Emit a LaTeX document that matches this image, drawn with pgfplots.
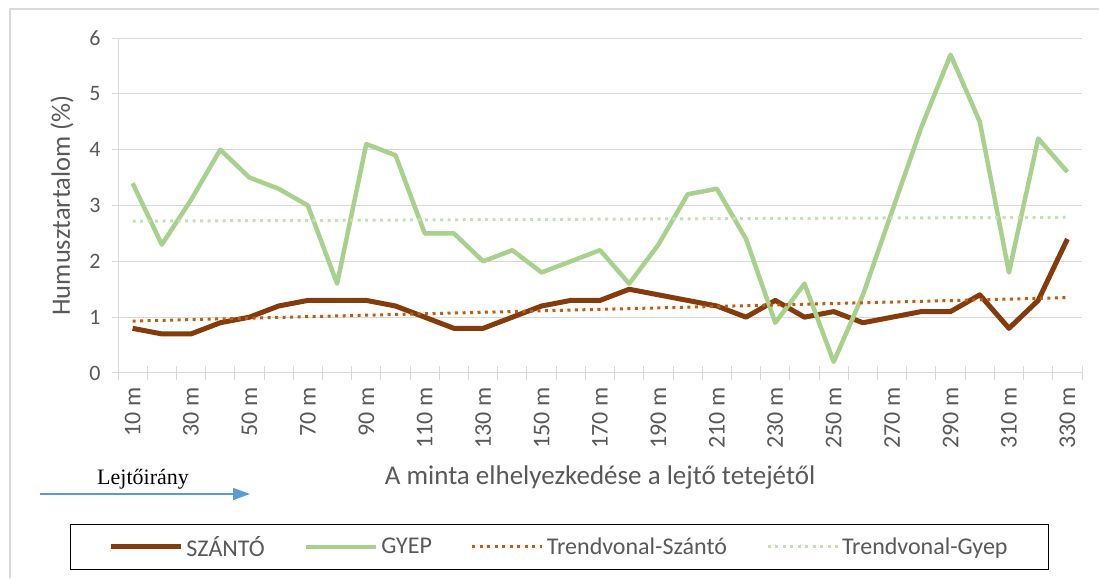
\documentclass[border=0pt]{standalone}
\usepackage{fontspec}
\setmainfont{Carlito}
\newfontfamily\timesfont{Liberation Serif}
\usepackage{pgfplots}
\pgfplotsset{compat=1.18}
\usetikzlibrary{arrows.meta}
\definecolor{szanto}{HTML}{843C0C}
\definecolor{gyep}{HTML}{A9D18E}
\definecolor{trsz}{HTML}{C55A11}
\definecolor{trgy}{HTML}{C5E0B4}
\definecolor{txt}{HTML}{595959}
\definecolor{gridc}{HTML}{D9D9D9}
\definecolor{arrowblue}{HTML}{5B9BD5}
\begin{document}
\begin{tikzpicture}[x=1pt,y=1pt]
\useasboundingbox (0,0) rectangle (1099,578);
\draw[gridc, line width=1.5pt] (10,0) -- (10,569) -- (1099,569);
\begin{axis}[
  at={(118pt,205pt)}, anchor=south west,
  scale only axis, width=964pt, height=335pt,
  xmin=0.5, xmax=33.5, ymin=0, ymax=6,
  axis x line*=bottom, axis y line*=left,
  axis line style={draw=gridc, line width=1pt, -},
  every outer x axis line/.append style={-},
  every outer y axis line/.append style={-},
  ytick={0,1,2,3,4,5,6},
  ymajorgrids, grid style={draw=gridc, line width=1pt},
  xtick={1,3,...,33},
  xticklabels={10 m,30 m,50 m,70 m,90 m,110 m,130 m,150 m,170 m,190 m,210 m,230 m,250 m,270 m,290 m,310 m,330 m},
  minor xtick={0.5,1.5,...,33.5},
  major x tick style={draw=none},
  minor tick length=14pt, major tick length=6pt,
  xtick align=center, ytick align=outside,
  tick style={draw=gridc, line width=1pt},
  xticklabel shift=8pt, yticklabel shift=8pt,
  xticklabel style={rotate=90, anchor=east, font=\fontsize{24}{28}\selectfont, text=txt},
  yticklabel style={font=\fontsize{22}{26}\selectfont, text=txt},
  /pgf/number format/assume math mode=true,
  xlabel={A minta elhelyezkedése a lejtő tetejétől},
  xlabel style={at={(axis description cs:0.5,-0.313)}, anchor=center, font=\fontsize{27}{31}\selectfont, text=txt},
  ylabel={Humusztartalom (\%)},
  ylabel style={at={(axis description cs:-0.058,0.5)}, anchor=center, rotate=0, font=\fontsize{26.5}{30}\selectfont, text=txt},
  legend columns=4,
  legend style={at={(axis description cs:0.458,-0.519)}, anchor=center,
    draw=black, line width=1pt, font=\fontsize{24}{28}\selectfont, text=txt,
    inner xsep=38pt, inner ysep=10pt,
    nodes={inner xsep=3pt},
    /tikz/every even column/.append style={column sep=36pt}},
  legend image code/.code={\draw[#1] (0pt,0pt) -- (70pt,0pt);},
]
\addplot[szanto, line width=5pt, line join=round] coordinates {
(1,0.8) (2,0.7) (3,0.7) (4,0.9) (5,1.0) (6,1.2) (7,1.3) (8,1.3) (9,1.3) (10,1.2)
(11,1.0) (12,0.8) (13,0.8) (14,1.0) (15,1.2) (16,1.3) (17,1.3) (18,1.5) (19,1.4) (20,1.3)
(21,1.2) (22,1.0) (23,1.3) (24,1.0) (25,1.1) (26,0.9) (27,1.0) (28,1.1) (29,1.1) (30,1.4)
(31,0.8) (32,1.3) (33,2.4)};
\addlegendentry{SZÁNTÓ}
\addplot[gyep, line width=4.5pt, line join=round] coordinates {
(1,3.4) (2,2.3) (3,3.1) (4,4.0) (5,3.5) (6,3.3) (7,3.0) (8,1.6) (9,4.1) (10,3.9)
(11,2.5) (12,2.5) (13,2.0) (14,2.2) (15,1.8) (16,2.0) (17,2.2) (18,1.6) (19,2.3) (20,3.2)
(21,3.3) (22,2.4) (23,0.9) (24,1.6) (25,0.2) (26,1.4) (27,2.9) (28,4.4) (29,5.7) (30,4.5)
(31,1.8) (32,4.2) (33,3.6)};
\addlegendentry{GYEP}
\addplot[trsz, line width=3pt, dash pattern=on 3pt off 4.5pt] coordinates {(1,0.93) (33,1.35)};
\addlegendentry{Trendvonal-Szántó}
\addplot[trgy, line width=3pt, dash pattern=on 3pt off 4.5pt] coordinates {(1,2.72) (33,2.79)};
\addlegendentry{Trendvonal-Gyep}
\end{axis}
\node[font=\timesfont\fontsize{22}{26}\selectfont, anchor=base west, inner sep=0pt] at (97,93) {Lejtőirány};
\draw[arrowblue, line width=1.5pt, -{Triangle[length=17pt,width=12pt]}] (40,84) -- (250,84);
\end{tikzpicture}
\end{document}
